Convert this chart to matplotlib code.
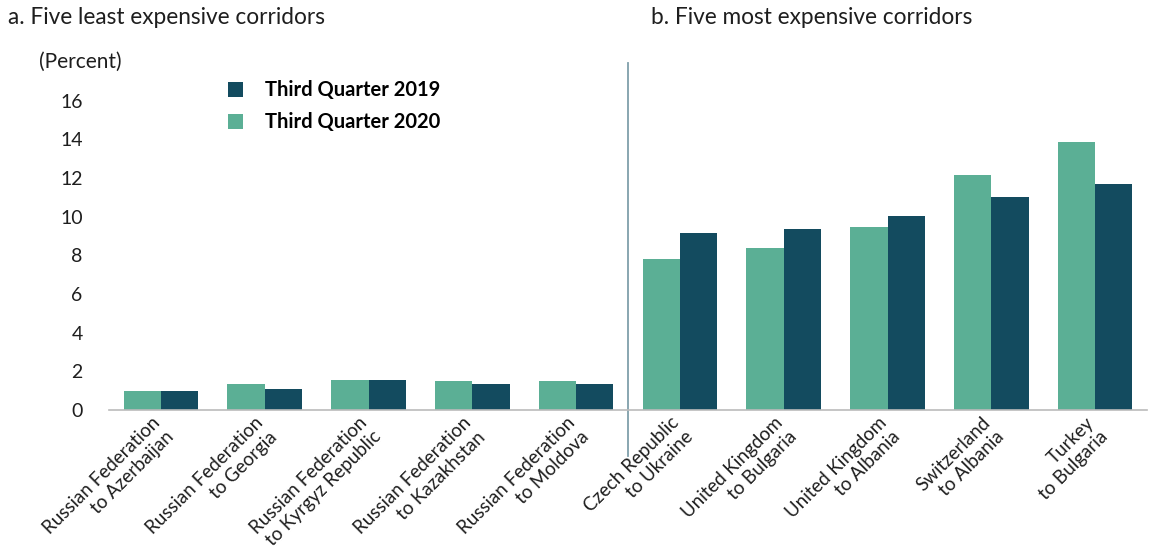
import matplotlib.pyplot as plt
import matplotlib.transforms as mtransforms
import numpy as np

plt.rcParams['font.family'] = ['Lato', 'DejaVu Sans']

corridors = ['Russian Federation\nto Azerbaijan', 'Russian Federation\nto Georgia',
             'Russian Federation\nto Kyrgyz Republic', 'Russian Federation\nto Kazakhstan',
             'Russian Federation\nto Moldova', 'Czech Republic\nto Ukraine',
             'United Kingdom\nto Bulgaria', 'United Kingdom\nto Albania',
             'Switzerland\nto Albania', 'Turkey\nto Bulgaria']
q3_2020 = [1.0, 1.36, 1.53, 1.48, 1.48, 7.80, 8.38, 9.48, 12.16, 13.85]
q3_2019 = [1.0, 1.07, 1.53, 1.36, 1.36, 9.17, 9.35, 10.02, 11.0, 11.68]

green = '#5BAF95'
dark = '#134B5F'
txt = '#1E1E1E'

fig = plt.figure(figsize=(11.5, 5.48), dpi=100)
ax = fig.add_axes([0.0948, 0.2518, 0.9026, 0.635])

x = np.arange(len(corridors))
w = 0.36
ax.bar(x + w / 2, q3_2019, w, color=dark, label='Third Quarter 2019')
ax.bar(x - w / 2, q3_2020, w, color=green, label='Third Quarter 2020')

ax.set_xlim(-0.5, len(corridors) - 0.5)
ax.set_ylim(0, 18)
ax.set_yticks(range(0, 17, 2))
ax.set_xticks(x)
ax.set_xticklabels(corridors, rotation=45, ha='right', rotation_mode='anchor',
                   multialignment='right', fontsize=13.5, color=txt,
                   linespacing=1.2)
ax.tick_params(axis='x', length=0, pad=3)
ax.tick_params(axis='y', length=0, pad=19, labelsize=14, labelcolor=txt)

# nudge category labels left a little
shift = mtransforms.ScaledTranslation(-10 / 100, 0, fig.dpi_scale_trans)
for lab in ax.get_xticklabels():
    lab.set_transform(lab.get_transform() + shift)

for s in ['top', 'right', 'left']:
    ax.spines[s].set_visible(False)
ax.spines['bottom'].set_color('#BBBBBB')
ax.spines['bottom'].set_linewidth(1.2)

# divider between the two panels
ax.plot([4.5, 4.5], [-2.4, 17.95], color='#7F9FAA', lw=1.3, clip_on=False)

leg = ax.legend(loc='upper left', bbox_to_anchor=(0.097, 1.0), frameon=False,
                handlelength=0.75, handleheight=0.75, handletextpad=1.1,
                labelspacing=0.6, prop={'size': 14.5, 'weight': 'bold'})

fig.text(0.007, 0.968, 'a. Five least expensive corridors', fontsize=16.3,
         va='center', ha='left', color=txt)
fig.text(0.566, 0.968, 'b. Five most expensive corridors', fontsize=16.3,
         va='center', ha='left', color=txt)
fig.text(0.034, 0.887, '(Percent)', fontsize=15, va='center', ha='left',
         color=txt)

fig.savefig('out.png', dpi=100)
